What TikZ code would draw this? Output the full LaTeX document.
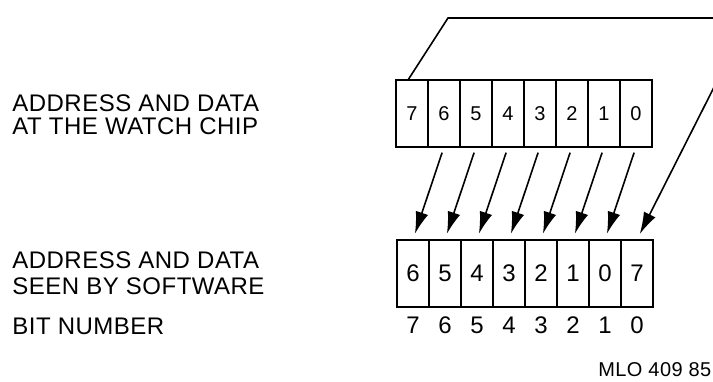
\documentclass[tikz,border=0pt]{standalone}
\usepackage{fontspec}
\setmainfont{Liberation Sans}[LetterSpace=2]
\usetikzlibrary{positioning,arrows.meta,calc}

\tikzset{
  cell/.style={draw,line width=1pt,minimum width=16pt,minimum height=33.5pt,
    inner sep=0pt,outer sep=0pt},
  caption/.style={anchor=west,align=left,inner sep=0pt,
    font=\fontsize{12}{11.5}\selectfont},
  bitnum/.style={inner sep=0pt,font=\fontsize{12}{12}\selectfont},
  move/.style={line width=0.8pt,-{Latex[length=11pt,width=6.5pt]},
    shorten <=3pt,shorten >=3pt}
}

\begin{document}
\begin{tikzpicture}[x=0.5pt,y=-0.5pt]
    \useasboundingbox (0,0) rectangle (713,381);
    \clip (0,0) rectangle (713,381);

    % Captions
    \node[caption] (watchcap) at (12,114.5)
        {ADDRESS AND DATA\\AT THE WATCH CHIP};
    \node[caption,font=\fontsize{12}{13}\selectfont] (softcap) at (12,273)
        {ADDRESS AND DATA\\SEEN BY SOFTWARE};
    \node[caption] (bitcap) at (12,326) {BIT NUMBER};

    % Register at the watch chip
    \foreach \n [count=\i from 0] in {7,...,0}
        \node[cell,font=\fontsize{10}{10}\selectfont] (w\n) at ({412+32*\i},113.5) {\n};

    % Register seen by software
    \foreach \n/\d [count=\i from 0] in {7/6,6/5,5/4,4/3,3/2,2/1,1/0,0/7}
        \node[cell,font=\fontsize{12}{12}\selectfont] (s\n) at ({413+32*\i},273) {\d};

    % Bit numbers
    \foreach \n in {7,...,0}
        \node[bitnum,below=5pt of s\n] (k\n) {\n};

    % Shifted bits
    \foreach \n [evaluate=\n as \m using int(\n+1)] in {0,...,6}
        \draw[move] (w\n.south) -- (s\m.north);

    % Bit 7 wraps round to bit 0
    \coordinate (up) at (448,18);
    \coordinate (corner) at (749,18);
    \draw[move,shorten <=0pt] ($(w7.north)+(-4,0)$) -- (up) -- (corner) -- (s0.north);

    % Figure number
    \node[anchor=base west,inner sep=0pt,font=\fontsize{10}{10}\selectfont]
        (fignum) at (598,376) {MLO 409 85};
\end{tikzpicture}
\end{document}
